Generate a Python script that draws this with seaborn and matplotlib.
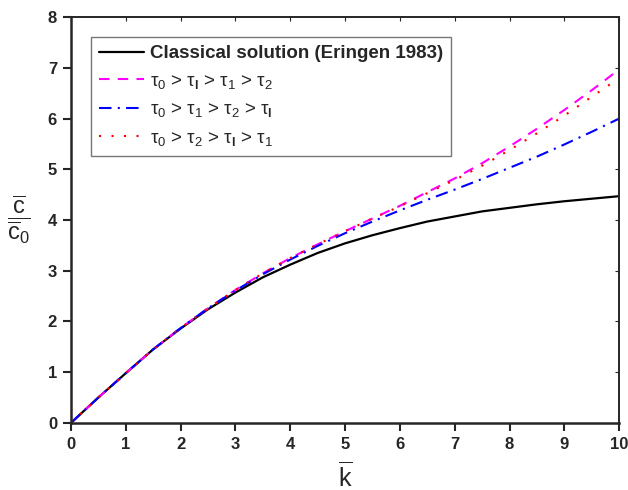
import matplotlib
matplotlib.use('Agg')
import matplotlib.pyplot as plt
import seaborn as sns
import pandas as pd

# wave number k (normalised)
k = [0, 0.5, 1, 1.5, 2, 2.5, 3, 3.5, 4, 4.5, 5, 5.5, 6, 6.5, 7, 7.5, 8, 8.5, 9, 9.5, 10]

classical = [0, 0.50, 0.98, 1.45, 1.86, 2.24, 2.57, 2.87, 3.12, 3.35, 3.54,
             3.70, 3.84, 3.97, 4.07, 4.17, 4.24, 4.31, 4.37, 4.42, 4.47]
case_a = [0, 0.50, 0.98, 1.45, 1.87, 2.26, 2.62, 2.95, 3.25, 3.52, 3.78,
          4.03, 4.28, 4.55, 4.82, 5.12, 5.45, 5.80, 6.17, 6.56, 6.97]
case_b = [0, 0.50, 0.98, 1.45, 1.87, 2.26, 2.61, 2.93, 3.22, 3.49, 3.74,
          3.97, 4.19, 4.40, 4.60, 4.81, 5.03, 5.25, 5.49, 5.74, 6.00]
case_c = [0, 0.50, 0.98, 1.45, 1.87, 2.26, 2.62, 2.95, 3.25, 3.52, 3.78,
          4.03, 4.27, 4.53, 4.79, 5.07, 5.38, 5.71, 6.06, 6.43, 6.80]

labels = ['Classical solution (Eringen 1983)',
          r'τ$_0$ > τ$_\mathbf{l}$ > τ$_1$ > τ$_2$',
          r'τ$_0$ > τ$_1$ > τ$_2$ > τ$_\mathbf{l}$',
          r'τ$_0$ > τ$_2$ > τ$_\mathbf{l}$ > τ$_1$']

df = pd.DataFrame({'k': k, 'classical': classical, 'a': case_a, 'b': case_b, 'c': case_c})

sns.set_style('ticks')
plt.rcParams['font.family'] = ['Liberation Sans', 'DejaVu Sans']
plt.rcParams['mathtext.fontset'] = 'custom'
plt.rcParams['mathtext.rm'] = 'Liberation Sans'
plt.rcParams['mathtext.it'] = 'Liberation Sans'
plt.rcParams['mathtext.bf'] = 'Liberation Sans:bold'
plt.rcParams['mathtext.sf'] = 'Liberation Sans'

fig = plt.figure(figsize=(6.28, 4.90), dpi=100)
ax = fig.add_axes([0.113, 0.137, 0.873, 0.828])

sns.lineplot(data=df, x='k', y='classical', color='black', lw=1.6, ax=ax, label=labels[0])
sns.lineplot(data=df, x='k', y='a', color='#FF00FF', lw=1.5, ax=ax, label=labels[1],
             linestyle=(0, (5, 4)))
sns.lineplot(data=df, x='k', y='b', color='#0000FF', lw=1.5, ax=ax, label=labels[2],
             linestyle=(0, (6, 3, 1, 3)))
sns.lineplot(data=df, x='k', y='c', color='#FF0000', lw=1.5, ax=ax, label=labels[3],
             linestyle=(0, (1, 5)))

ax.set_xlim(0, 10)
ax.set_ylim(0, 8)
ax.set_xticks(range(0, 11))
ax.set_yticks(range(0, 9))

for s in ['left', 'bottom']:
    ax.spines[s].set_linewidth(1.8)
for s in ['top', 'right']:
    ax.spines[s].set_linewidth(1.4)

ax.tick_params(axis='both', which='major', direction='out', length=6, width=1.5,
               labelsize=12, pad=4)
for lab in ax.get_xticklabels() + ax.get_yticklabels():
    lab.set_fontweight('bold')

# mirrored small ticks on top/right
ax2 = ax.secondary_xaxis('top')
ax2.set_xticks(range(0, 11))
ax2.tick_params(direction='in', length=3, width=0.8, labeltop=False)
ax2.spines['top'].set_visible(False)
ax3 = ax.secondary_yaxis('right')
ax3.set_yticks(range(0, 9))
ax3.tick_params(direction='in', length=3, width=0.8, labelright=False)
ax3.spines['right'].set_visible(False)

ax.set_xlabel(r'$\overline{\mathsf{k}}$', fontsize=18, labelpad=7)
ax.set_ylabel(r'$\dfrac{\overline{\mathsf{c}}}{\overline{\mathsf{c}}_0}$', fontsize=17,
              rotation=0, labelpad=21, va='center')

leg = ax.legend(loc='upper left', bbox_to_anchor=(0.036, 0.952), fontsize=13.5,
                frameon=True, fancybox=False, edgecolor='#555555',
                handlelength=2.4, handletextpad=0.3, labelspacing=0.56,
                borderpad=0.45, borderaxespad=0)
leg.get_frame().set_linewidth(1.0)
leg.get_texts()[0].set_fontweight('bold')

fig.savefig('out.png', dpi=100)
